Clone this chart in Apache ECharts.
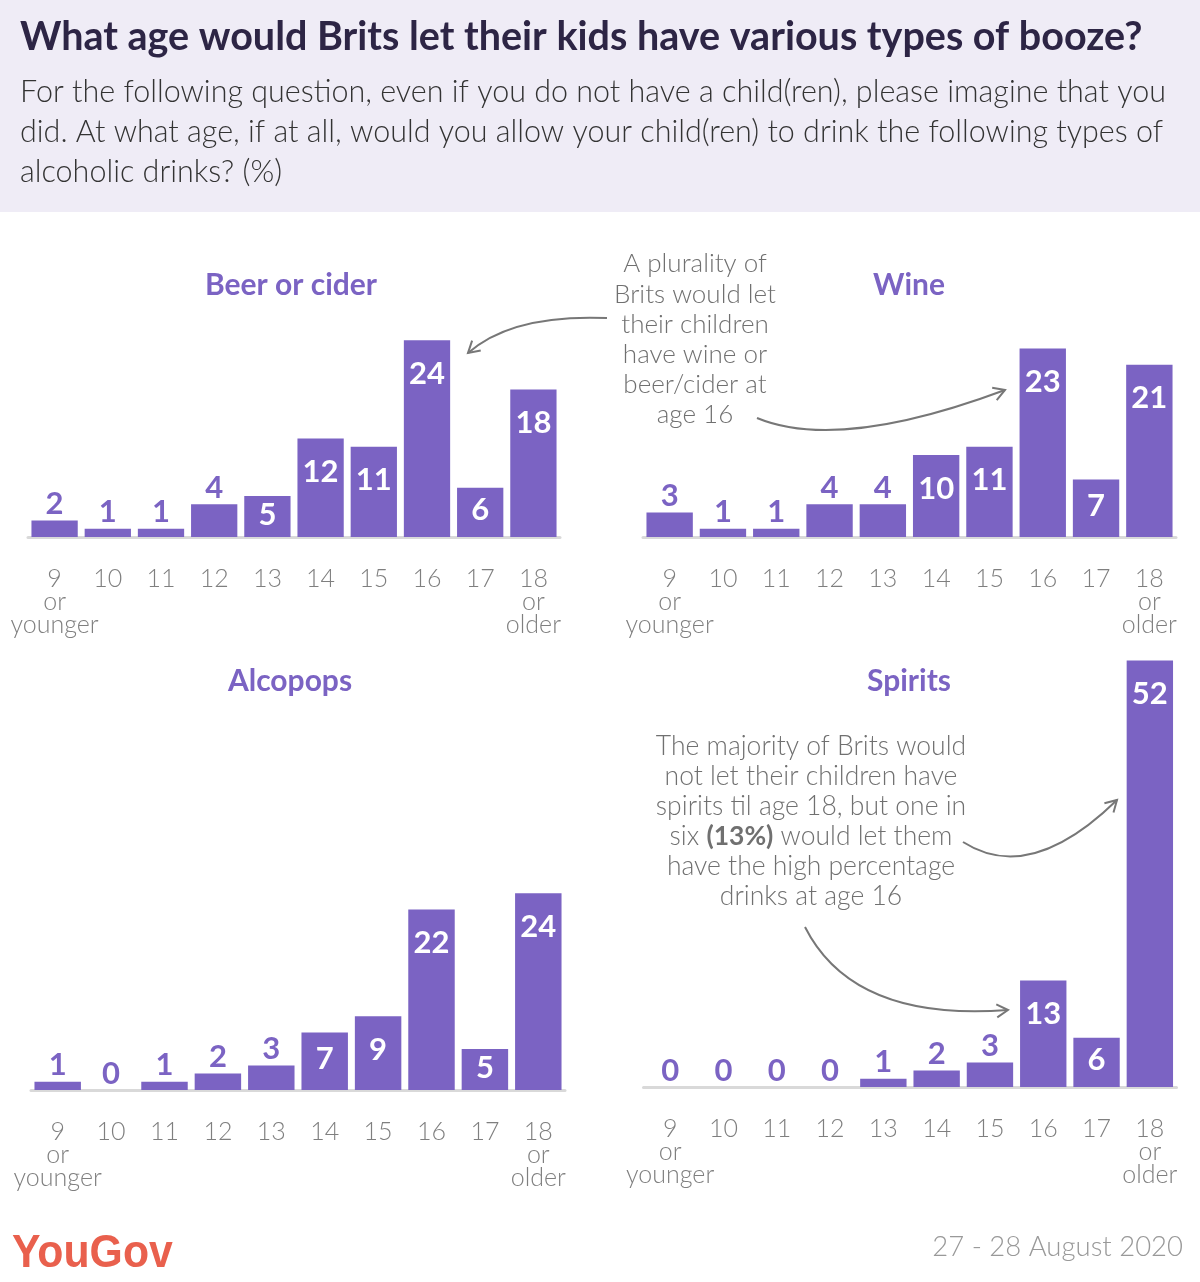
<!DOCTYPE html>
<html>
<head>
<meta charset="utf-8">
<script src="https://cdn.jsdelivr.net/npm/echarts@6/dist/echarts.min.js"></script>
<style>html,body{margin:0;padding:0;background:#fff}#c{width:1200px;height:1282px}</style>
</head>
<body>
<div id="c"></div>
<script>
// ---- data ----
const categories = ['9\nor\nyounger', '10', '11', '12', '13', '14', '15', '16', '17', '18\nor\nolder'];
const beerCider = [2, 1, 1, 4, 5, 12, 11, 24, 6, 18];
const wine = [3, 1, 1, 4, 4, 10, 11, 23, 7, 21];
const alcopops = [1, 0, 1, 2, 3, 7, 9, 22, 5, 24];
const spirits = [0, 0, 0, 0, 1, 2, 3, 13, 6, 52];
const panelTitles = ['Beer or cider', 'Wine', 'Alcopops', 'Spirits'];

// ---- styles ----
const PURPLE = '#7b63c3';
const PX = 8.2; // pixels per percentage point
const FONT = 'Lato, "Open Sans", sans-serif';

const panels = [
  { data: beerCider, left: 28, width: 532, base: 537, max: 26, tx: 291, ty: 285 },
  { data: wine, left: 643, width: 533, base: 537, max: 26, tx: 909, ty: 285 },
  { data: alcopops, left: 31, width: 534, base: 1090, max: 26, tx: 290, ty: 681 },
  { data: spirits, left: 643.5, width: 533, base: 1087, max: 52, tx: 909, ty: 681 }
];

function labelFor(v) {
  if (v >= 5) {
    const off = Math.min(33, v * PX * 0.45);
    return { position: 'insideTop', distance: Math.max(2, off - 15), color: '#fff' };
  }
  return { position: 'top', distance: 1, color: PURPLE };
}

const grids = [], xAxes = [], yAxes = [], series = [];
panels.forEach((p, i) => {
  grids.push({ left: p.left, width: p.width, top: p.base - p.max * PX, height: p.max * PX });
  xAxes.push({
    type: 'category', gridIndex: i, data: categories,
    axisLine: { lineStyle: { color: '#d9d9d9', width: 3 } },
    axisTick: { show: false },
    axisLabel: { interval: 0, color: '#7f7f7f', fontSize: 25, fontWeight: 300, fontFamily: FONT, lineHeight: 23, margin: 30 }
  });
  yAxes.push({ type: 'value', gridIndex: i, min: 0, max: p.max, show: false, splitLine: { show: false } });
  series.push({
    type: 'bar', xAxisIndex: i, yAxisIndex: i,
    barCategoryGap: '13%',
    itemStyle: { color: PURPLE },
    label: { show: true, fontSize: 31, fontWeight: 'bold', fontFamily: FONT },
    data: p.data.map(v => ({ value: v, label: labelFor(v) })),
    silent: true, animation: false
  });
});

// ---- annotation arrows ----
const GRAY = '#777';
function arrow(x1, y1, cx, cy, x2, y2) {
  const dx = x2 - cx, dy = y2 - cy, L = Math.hypot(dx, dy);
  const ux = dx / L, uy = dy / L, len = 13, a = Math.PI / 6;
  const r = (ang) => [x2 - len * (ux * Math.cos(ang) - uy * Math.sin(ang)), y2 - len * (ux * Math.sin(ang) + uy * Math.cos(ang))];
  return [
    { type: 'bezierCurve', shape: { x1, y1, x2, y2, cpx1: cx, cpy1: cy }, style: { stroke: GRAY, lineWidth: 2, fill: null } },
    { type: 'polyline', shape: { points: [r(a), [x2, y2], r(-a)] }, style: { stroke: GRAY, lineWidth: 2, fill: null } }
  ];
}

const graphics = [
  { type: 'rect', shape: { x: 0, y: 0, width: 1200, height: 212 }, style: { fill: '#efecf6' }, z: -10 },
  { type: 'text', style: { x: 20, y: 37, text: 'What age would Brits let their kids have various types of booze?', fontFamily: FONT, fontWeight: 'bold', fontSize: 39.5, fill: '#2d2545', textVerticalAlign: 'middle' } },
  { type: 'text', style: { x: 20, y: 72, text: 'For the following question, even if you do not have a child(ren), please imagine that you\ndid. At what age, if at all, would you allow your child(ren) to drink the following types of\nalcoholic drinks? (%)', fontFamily: FONT, fontWeight: 300, fontSize: 30.5, lineHeight: 40, fill: '#333' } },
  { type: 'text', style: { x: 695, y: 249, text: 'A plurality of\nBrits would let\ntheir children\nhave wine or\nbeer/cider at\nage 16', fontFamily: FONT, fontWeight: 300, fontSize: 26, lineHeight: 30.2, fill: '#707070', textAlign: 'center' } },
  { type: 'text', style: { x: 811, y: 731, text: 'The majority of Brits would\nnot let their children have\nspirits til age 18, but one in\nsix {b|(13%)} would let them\nhave the high percentage\ndrinks at age 16', fontFamily: FONT, fontWeight: 300, fontSize: 26.5, lineHeight: 30, fill: '#707070', textAlign: 'center', rich: { b: { fontFamily: FONT, fontWeight: 'bold', fontSize: 26.5, fill: '#707070' } } } },
  { type: 'text', x: 12, scaleX: 0.93, style: { x: 0, y: 1254, text: 'YouGov', fontFamily: '"Liberation Sans Narrow", "Liberation Sans", sans-serif', fontWeight: 'bold', fontSize: 46, fill: '#e9604d', textVerticalAlign: 'middle' } },
  { type: 'text', style: { x: 1183, y: 1247, text: '27 - 28 August 2020', fontFamily: FONT, fontWeight: 300, fontSize: 27.5, fill: '#999', textAlign: 'right', textVerticalAlign: 'middle' } }
];
panels.forEach((p, i) => {
  graphics.push({ type: 'text', style: { x: p.tx, y: p.ty, text: panelTitles[i], fontFamily: FONT, fontWeight: 'bold', fontSize: 30, fill: PURPLE, textAlign: 'center', textVerticalAlign: 'middle' } });
});
graphics.push(...arrow(607, 318, 512, 314, 468, 353));
graphics.push(...arrow(757, 418, 839, 452, 1005, 390));
graphics.push(...arrow(963, 842, 1030, 885, 1117, 800));
graphics.push(...arrow(805, 927, 853, 1022, 1008, 1010));

const chart = echarts.init(document.getElementById('c'));
chart.setOption({
  animation: false,
  grid: grids, xAxis: xAxes, yAxis: yAxes, series,
  graphic: graphics
});
</script>
</body>
</html>
